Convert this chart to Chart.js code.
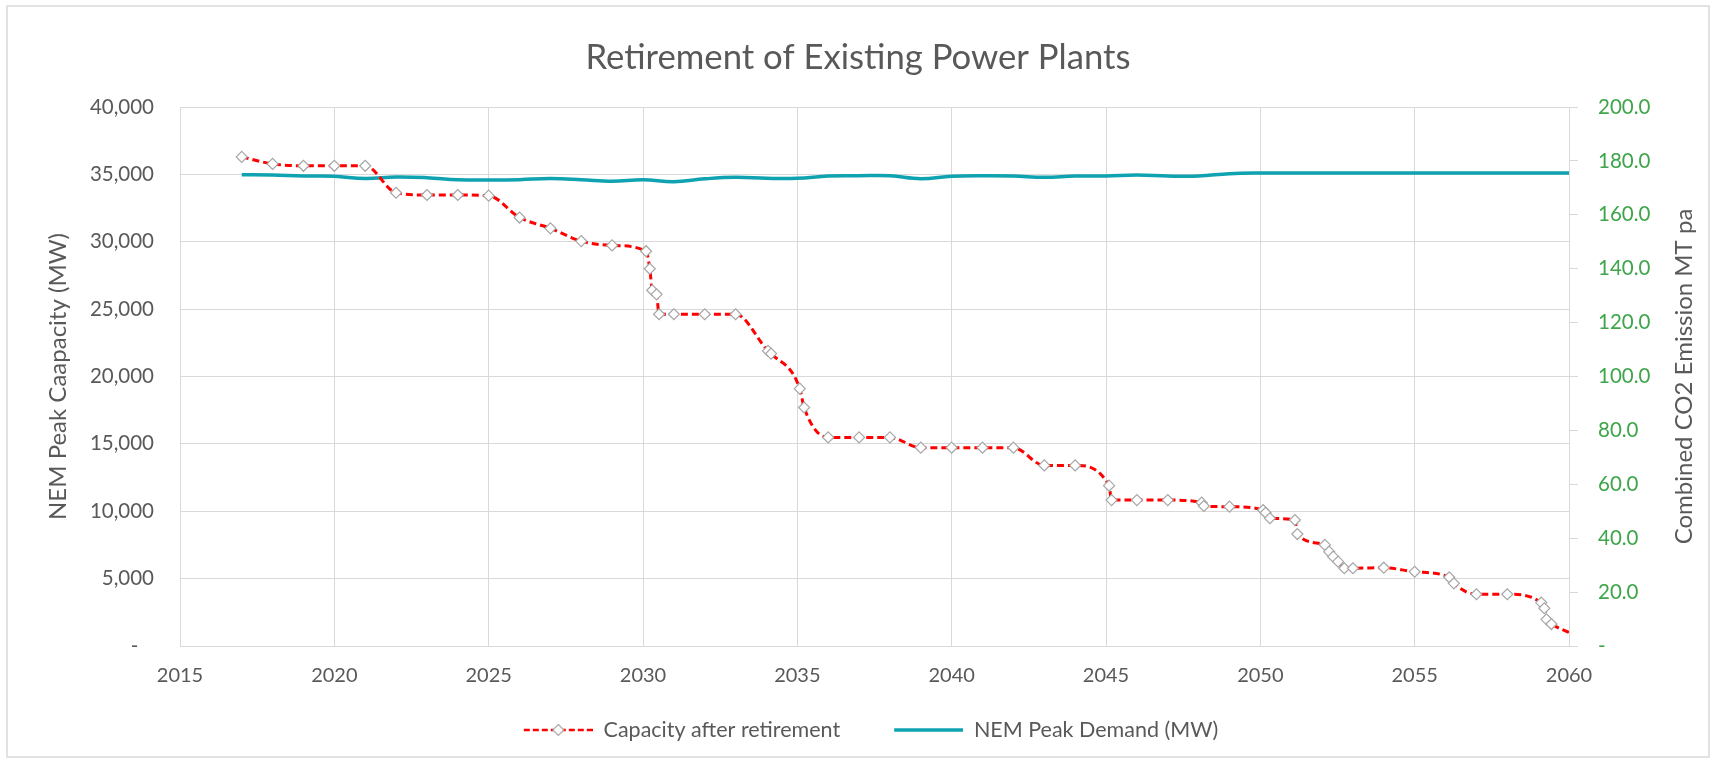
<!DOCTYPE html>
<html>
<head>
<meta charset="utf-8">
<title>Retirement of Existing Power Plants</title>
<script src="https://cdn.jsdelivr.net/npm/chart.js@4.4.1/dist/chart.umd.min.js"></script>
<style>
    html, body { margin: 0; padding: 0; background: #fff; }
    #wrap { position: relative; width: 1716px; height: 764px; }
</style>
</head>
<body>
<div id="wrap"><canvas id="retireChart"></canvas></div>
<script>
// 1. DATA
const capYears = [2017, 2018, 2019, 2020, 2021, 2022, 2023, 2024, 2025, 2026, 2027, 2028, 2029,
    2030.1, 2030.22, 2030.3, 2030.44, 2030.52, 2031, 2032, 2033, 2034.05, 2034.15, 2035.08, 2035.22,
    2036, 2037, 2038, 2039, 2040, 2041, 2042, 2043, 2044, 2045.1, 2045.18, 2046, 2047, 2048.1, 2048.17,
    2049, 2050.09, 2050.17, 2050.31, 2051.12, 2051.2, 2052.09, 2052.23, 2052.36, 2052.52, 2052.72,
    2053, 2054, 2055, 2056.12, 2056.27, 2057, 2058, 2059.1, 2059.2, 2059.27, 2059.43, 2060];
const capValues = [36300, 35780, 35640, 35640, 35640, 33640, 33470, 33470, 33420, 31800, 31000, 30050, 29730,
    29300, 28000, 26400, 26100, 24620, 24620, 24620, 24620, 21900, 21700, 19100, 17700,
    15480, 15480, 15480, 14720, 14720, 14720, 14720, 13400, 13400, 11900, 10830, 10830, 10830, 10640, 10390,
    10340, 10090, 9890, 9480, 9350, 8310, 7500, 7000, 6630, 6260, 5770,
    5770, 5810, 5510, 5100, 4650, 3840, 3840, 3220, 2800, 1980, 1630, 1000];

const demandYears = [2017, 2018, 2019, 2020, 2021, 2022, 2023, 2024, 2025, 2026, 2027, 2028, 2029, 2030,
    2031, 2032, 2033, 2034, 2035, 2036, 2037, 2038, 2039, 2040, 2041, 2042, 2043, 2044, 2045, 2046,
    2047, 2048, 2049, 2050, 2051, 2052, 2053, 2054, 2055, 2056, 2057, 2058, 2059, 2060];
const demandValues = [34980, 34950, 34880, 34860, 34690, 34810, 34760, 34610, 34590, 34610, 34690, 34610, 34490, 34600,
    34460, 34670, 34780, 34710, 34710, 34880, 34900, 34900, 34680, 34860, 34900, 34880, 34780, 34880, 34880, 34950,
    34880, 34880, 35050, 35100, 35100, 35100, 35100, 35100, 35100, 35100, 35100, 35100, 35100, 35100];

const yearTicks = [2015, 2020, 2025, 2030, 2035, 2040, 2045, 2050, 2055, 2060];
const capacityTicks = [0, 5000, 10000, 15000, 20000, 25000, 30000, 35000, 40000];
const emissionTicks = [0, 20, 40, 60, 80, 100, 120, 140, 160, 180, 200];

// 2. STYLE
const FONT = "Lato, 'Open Sans', sans-serif";
const GREY_TEXT = "#595959";
const GRID = "#D9D9D9";
const RED = "#FF0000";
const TEAL = "#0FA3B1";
const GREEN = "#3FA54B";

Chart.defaults.font.family = FONT;
Chart.defaults.color = GREY_TEXT;

// legend samples (line + marker) drawn on small canvases,
// left part transparent so the items get more room between them
const SAMPLE_W = 95;
const SAMPLE_LEAD = 26;

function makeSample(kind) {
    const c = document.createElement("canvas");
    c.width = SAMPLE_W;
    c.height = 16;
    const g = c.getContext("2d");
    const x0 = SAMPLE_LEAD;
    const mid = (x0 + SAMPLE_W) / 2;
    if (kind === "cap") {
        g.strokeStyle = RED;
        g.lineWidth = 2.5;
        g.setLineDash([6, 3]);
        g.beginPath(); g.moveTo(x0, 8); g.lineTo(SAMPLE_W, 8); g.stroke();
        g.setLineDash([]);
        g.fillStyle = "#fff";
        g.strokeStyle = "#A6A6A6";
        g.lineWidth = 1.2;
        g.beginPath();
        g.moveTo(mid, 2.5); g.lineTo(mid + 5.5, 8); g.lineTo(mid, 13.5); g.lineTo(mid - 5.5, 8); g.closePath();
        g.fill(); g.stroke();
    } else {
        g.strokeStyle = TEAL;
        g.lineWidth = 3.5;
        g.beginPath(); g.moveTo(x0, 8); g.lineTo(SAMPLE_W, 8); g.stroke();
    }
    return c;
}

const capSample = makeSample("cap");
const demandSample = makeSample("demand");

// 3. PLUGIN: outer frame + right axis title (reads bottom to top)
const frameAndTitle = {
    id: "frameAndTitle",
    beforeDraw(chart) {
        const c = chart.ctx;
        c.save();
        c.fillStyle = "#fff";
        c.fillRect(0, 0, chart.width, chart.height);
        c.strokeStyle = GRID;
        c.lineWidth = 1.5;
        c.strokeRect(7, 6, chart.width - 14, chart.height - 13);
        c.restore();
    },
    afterDraw(chart) {
        const c = chart.ctx;
        const area = chart.chartArea;
        const right = chart.scales.yRight;
        c.save();
        c.translate(right.right - 32, (area.top + area.bottom) / 2);
        c.rotate(-Math.PI / 2);
        c.font = "24px " + FONT;
        c.fillStyle = GREY_TEXT;
        c.textAlign = "center";
        c.textBaseline = "middle";
        c.fillText("Combined CO2 Emission MT pa", 0, 0);
        c.restore();
    }
};

// 4. CHART
const ctx = document.getElementById("retireChart");

new Chart(ctx, {
    type: "line",
    data: {
        datasets: [
            {
                label: "Capacity after retirement",
                data: capYears.map((yr, i) => ({ x: yr, y: capValues[i] })),
                borderColor: RED,
                borderWidth: 3,
                borderDash: [7, 4],
                cubicInterpolationMode: "monotone",
                pointStyle: "rectRot",
                pointRadius: c => (c.dataIndex === capYears.length - 1 ? 0 : 5.5),
                pointBackgroundColor: "#fff",
                pointBorderColor: "#A6A6A6",
                pointBorderWidth: 1.2,
                yAxisID: "y"
            },
            {
                label: "NEM Peak Demand (MW)",
                data: demandYears.map((yr, i) => ({ x: yr, y: demandValues[i] })),
                borderColor: TEAL,
                borderWidth: 3.5,
                tension: 0.4,
                pointRadius: 0,
                yAxisID: "y"
            }
        ]
    },
    options: {
        responsive: true,
        maintainAspectRatio: false,
        animation: false,
        layout: {
            padding: { left: 0, right: 0, top: 0, bottom: 13.25 }
        },
        plugins: {
            title: {
                display: true,
                text: "Retirement of Existing Power Plants",
                color: GREY_TEXT,
                font: { size: 34.7, weight: "normal" },
                padding: { top: 37.2, bottom: 28.2 }
            },
            legend: {
                position: "bottom",
                labels: {
                    usePointStyle: true,
                    pointStyleWidth: SAMPLE_W,
                    padding: 28,
                    color: GREY_TEXT,
                    font: { size: 21.5 },
                    generateLabels: chart => {
                        const items = Chart.defaults.plugins.legend.labels.generateLabels(chart);
                        items[0].pointStyle = capSample;
                        items[1].pointStyle = demandSample;
                        return items;
                    }
                }
            },
            tooltip: { enabled: false }
        },
        scales: {
            x: {
                type: "linear",
                min: 2015,
                max: 2060,
                afterBuildTicks: s => { s.ticks = yearTicks.map(v => ({ value: v })); },
                afterFit: s => { s.height = 45.25; },
                grid: { color: GRID, drawTicks: false },
                border: { color: GRID },
                ticks: {
                    padding: 18,
                    font: { size: 20 },
                    color: GREY_TEXT,
                    callback: v => String(v)
                }
            },
            y: {
                position: "left",
                min: 0,
                max: 40000,
                afterBuildTicks: s => { s.ticks = capacityTicks.map(v => ({ value: v })); },
                afterFit: s => { s.width = 180; },
                grid: { color: GRID, drawTicks: false },
                border: { color: GRID },
                title: {
                    display: true,
                    text: "NEM Peak Caapacity (MW)",
                    color: GREY_TEXT,
                    font: { size: 24 },
                    padding: { top: 43.6, bottom: 0 }
                },
                ticks: {
                    padding: 26,
                    font: { size: 20.5 },
                    color: GREY_TEXT,
                    callback: v => (v === 0 ? "-   " : v.toLocaleString("en-US"))
                }
            },
            yRight: {
                position: "right",
                min: 0,
                max: 200,
                afterBuildTicks: s => { s.ticks = emissionTicks.map(v => ({ value: v })); },
                afterFit: s => { s.width = 147; },
                grid: { drawOnChartArea: false, drawTicks: true, tickLength: 9, color: GRID },
                border: { color: GRID },
                ticks: {
                    padding: 20,
                    font: { size: 20.5 },
                    color: GREEN,
                    callback: v => (v === 0 ? "-" : v.toFixed(1))
                }
            }
        }
    },
    plugins: [frameAndTitle]
});
</script>
</body>
</html>
